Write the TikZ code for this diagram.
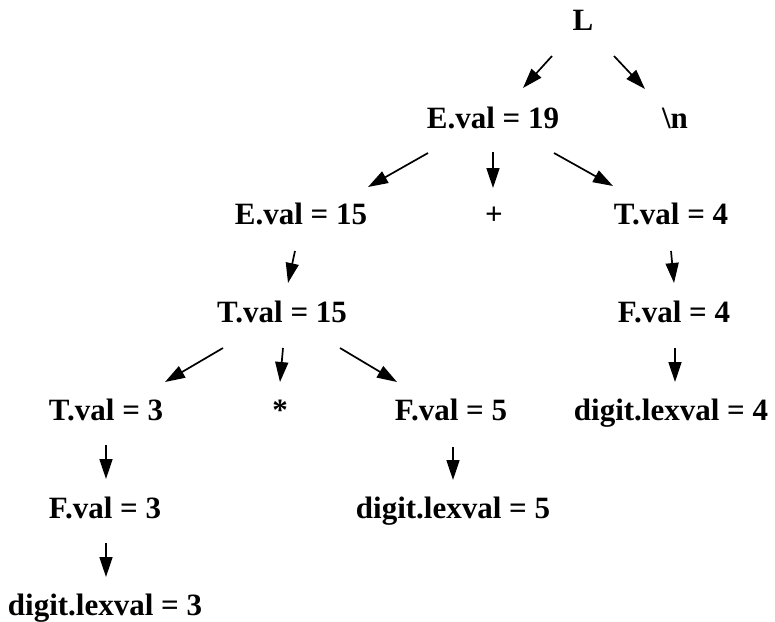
\documentclass[tikz,border=0pt]{standalone}
\usepackage{fontspec}
\setmainfont{Liberation Serif}
\usetikzlibrary{arrows.meta,calc}
\tikzset{
  lbl/.style={anchor=base, inner sep=0pt, font=\bfseries\fontsize{31}{36}\selectfont},
  arr/.style={line width=1.7pt, -{Triangle[length=20pt,width=13pt]}}
}
\begin{document}
\begin{tikzpicture}[x=1pt,y=-1pt]
\useasboundingbox (0,0) rectangle (775,621);
\node[lbl] (L)    at (583,30)  {L};
\node[lbl] (E19)  at (493,128) {E.val = 19};
\node[lbl] (nl)   at (675,128) {\textbackslash n};
\node[lbl] (E15)  at (301,224) {E.val = 15};
\node[lbl] (plus) at (494,224) {+};
\node[lbl] (T4)   at (671,224) {T.val = 4};
\node[lbl] (T15)  at (282,322) {T.val = 15};
\node[lbl] (F4)   at (674,322) {F.val = 4};
\node[lbl] (T3)   at (106,420) {T.val = 3};
\node[lbl] (star) at (280,420) {*};
\node[lbl] (F5)   at (451,420) {F.val = 5};
\node[lbl] (D4)   at (671,420) {digit.lexval = 4};
\node[lbl] (F3)   at (105,518) {F.val = 3};
\node[lbl] (D5)   at (453,518) {digit.lexval = 5};
\node[lbl] (D3)   at (105,615) {digit.lexval = 3};

\draw[arr] ($(L.base)+(-31,26)$) -- ($(E19.base)+(30,-40)$);
\draw[arr] ($(L.base)+(31,26)$) -- ($(nl.base)+(-30,-39)$);
\draw[arr] ($(E19.base)+(-65,25)$) -- ($(E15.base)+(67,-37)$);
\draw[arr] ($(E19.base)+(0,24)$) -- ($(plus.base)+(-1,-36)$);
\draw[arr] ($(E19.base)+(61,25)$) -- ($(T4.base)+(-58,-38)$);
\draw[arr] ($(E15.base)+(-6,27)$) -- ($(T15.base)+(6,-39)$);
\draw[arr] ($(T4.base)+(0,27)$) -- ($(F4.base)+(0,-39)$);
\draw[arr] ($(T15.base)+(-59,26)$) -- ($(T3.base)+(59,-38)$);
\draw[arr] ($(T15.base)+(1,26)$) -- ($(star.base)+(0,-38)$);
\draw[arr] ($(T15.base)+(58,26)$) -- ($(F5.base)+(-54,-38)$);
\draw[arr] ($(F4.base)+(1,26)$) -- ($(D4.base)+(4,-38)$);
\draw[arr] ($(T3.base)+(0,25)$) -- ($(F3.base)+(1,-39)$);
\draw[arr] ($(F3.base)+(1,25)$) -- ($(D3.base)+(1,-38)$);
\draw[arr] ($(F5.base)+(2,27)$) -- ($(D5.base)+(0,-38)$);
\end{tikzpicture}
\end{document}
